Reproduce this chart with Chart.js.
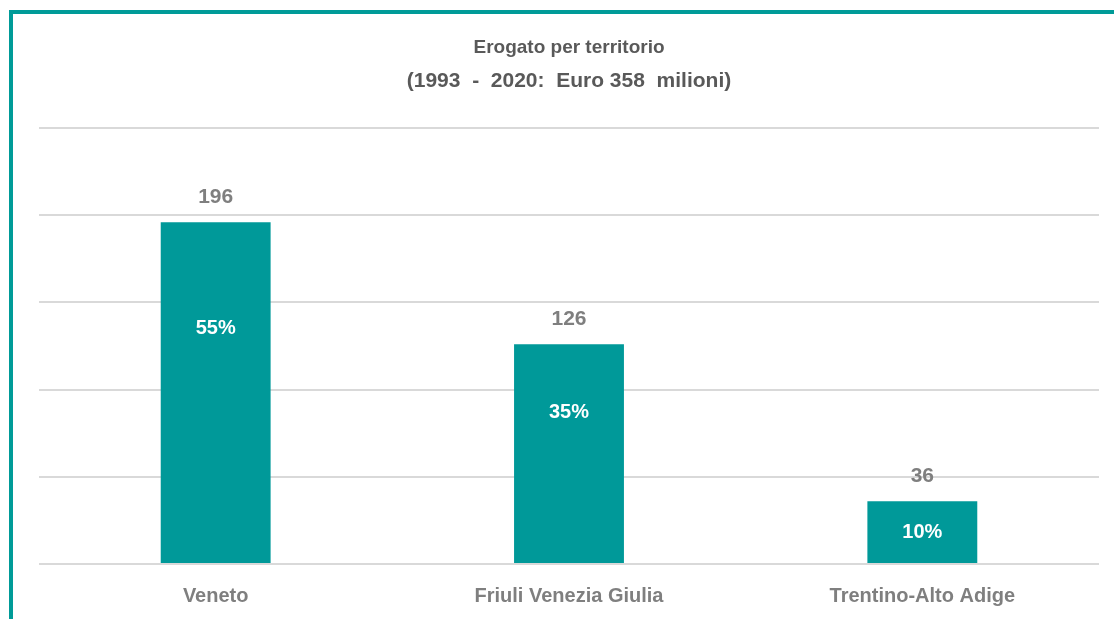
<!DOCTYPE html>
<html>
<head>
<meta charset="utf-8">
<script src="https://cdn.jsdelivr.net/npm/chart.js@4/dist/chart.umd.min.js"></script>
<style>
  html, body { margin: 0; padding: 0; background: #fff; }
  body { width: 1114px; height: 619px; position: relative; overflow: hidden; }
  #frame { position: absolute; left: 9px; top: 10px; right: -10px; bottom: -10px;
           border-top: 4px solid #009b98; border-left: 4px solid #009b98; }
  #wrap { position: absolute; left: 0; top: 0; width: 1114px; height: 619px; }
</style>
</head>
<body>
<div id="frame"></div>
<div id="wrap"><canvas id="erogato" width="1114" height="619"></canvas></div>
<script>
// dati del grafico
var territori = ['Veneto', 'Friuli Venezia Giulia', 'Trentino-Alto Adige'];
var erogato = [196, 126, 36];            // milioni di euro
var quote = ['55%', '35%', '10%'];
var titolo = 'Erogato per territorio';
var sottotitolo = '(1993  -  2020:  Euro 358  milioni)';

var grigio = '#7f7f7f';
var verde = '#009999';
var fam = '"Liberation Sans", Arial, sans-serif';

// etichette sopra e dentro le barre
var etichette = {
  id: 'etichette',
  afterDatasetsDraw: function (chart) {
    var ctx = chart.ctx;
    var meta = chart.getDatasetMeta(0);
    var y = chart.scales.y;
    var zero = y.getPixelForValue(0);
    ctx.save();
    ctx.textAlign = 'center';
    ctx.textBaseline = 'middle';
    meta.data.forEach(function (bar, i) {
      var v = erogato[i];
      ctx.font = 'bold 21px ' + fam;
      ctx.fillStyle = grigio;
      ctx.fillText(String(v), bar.x, bar.y - 25);
      var py = (zero - bar.y) > 100 ? y.getPixelForValue(v * 0.69) : (bar.y + zero) / 2;
      ctx.font = 'bold 20px ' + fam;
      ctx.fillStyle = '#ffffff';
      ctx.fillText(quote[i], bar.x, py);
    });
    ctx.restore();
  }
};

var ctx = document.getElementById('erogato').getContext('2d');
new Chart(ctx, {
  type: 'bar',
  data: {
    labels: territori,
    datasets: [{
      data: erogato,
      backgroundColor: verde,
      borderWidth: 0,
      categoryPercentage: 1,
      barPercentage: 0.311
    }]
  },
  options: {
    responsive: false,
    animation: false,
    layout: { padding: { left: 39, right: 15, top: 0, bottom: -9 } },
    plugins: {
      legend: { display: false },
      tooltip: { enabled: false },
      title: {
        display: true,
        text: titolo,
        color: '#595959',
        font: { family: fam, size: 19, weight: 'bold', lineHeight: 1.2 },
        padding: { top: 36, bottom: 10 }
      },
      subtitle: {
        display: true,
        text: sottotitolo,
        color: '#595959',
        font: { family: fam, size: 21, weight: 'bold', lineHeight: 1.2 },
        padding: { top: 0, bottom: 34 }
      }
    },
    scales: {
      x: {
        grid: { display: false, drawTicks: false },
        border: { display: false },
        ticks: {
          color: grigio,
          padding: 20,
          font: { family: fam, size: 20, weight: 'bold' }
        }
      },
      y: {
        min: 0,
        max: 250,
        border: { display: false },
        grid: { color: '#d9d9d9', lineWidth: 2, drawTicks: false },
        ticks: { display: false, stepSize: 50 }
      }
    }
  },
  plugins: [etichette]
});
</script>
</body>
</html>
